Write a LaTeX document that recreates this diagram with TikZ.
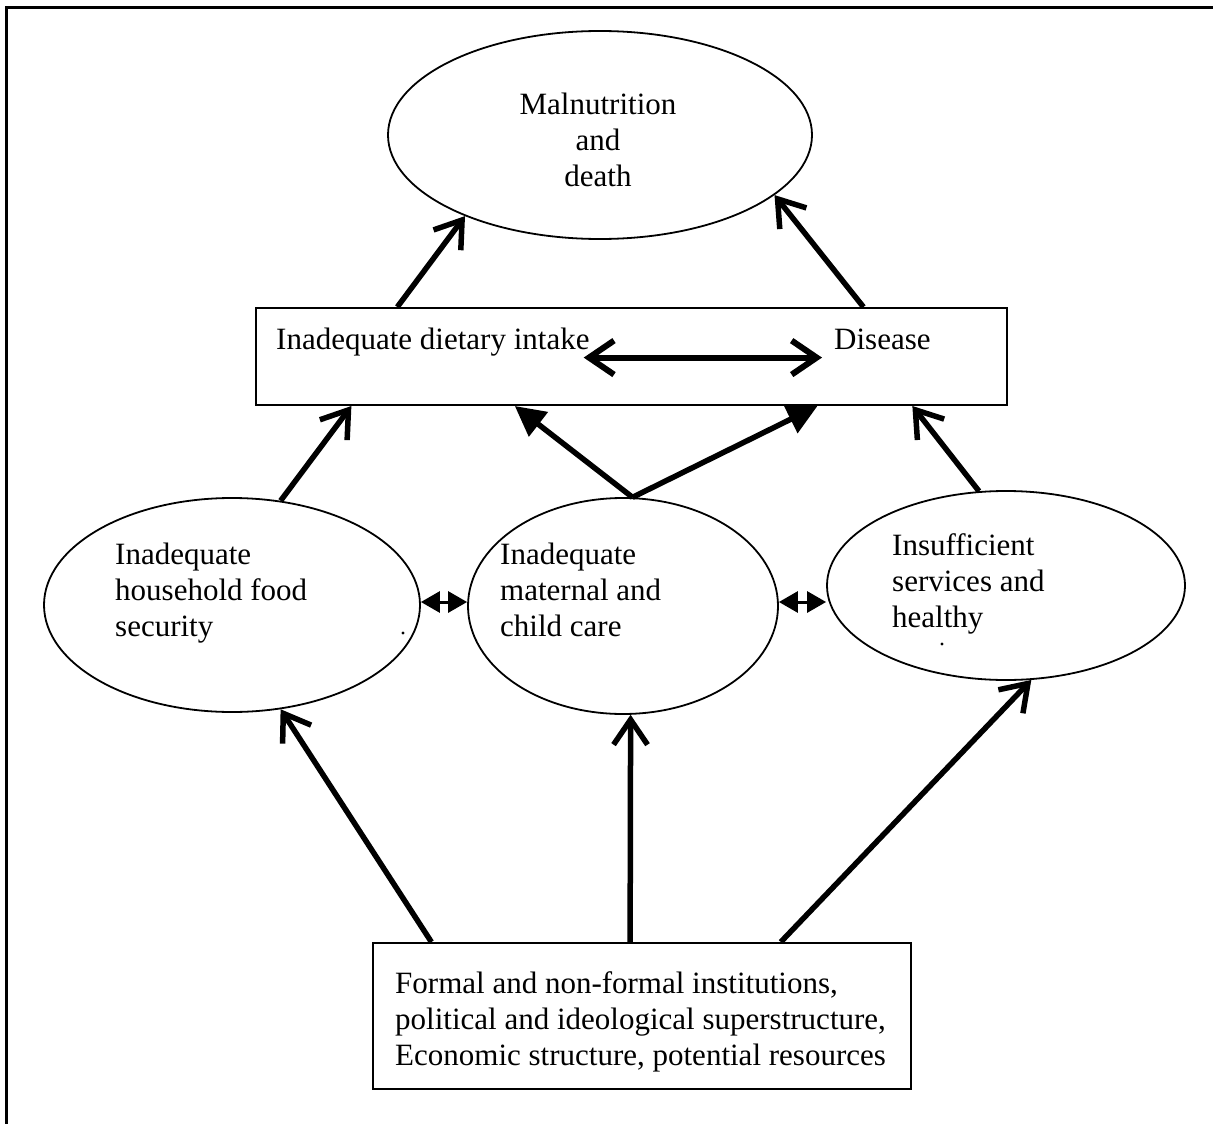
\documentclass[tikz,border=0pt]{standalone}
\usepackage{fontspec}
\setmainfont{Liberation Serif}
\usetikzlibrary{arrows.meta,shapes.geometric,calc}
\begin{document}
\begin{tikzpicture}[x=1pt,y=-1pt,
  txt/.style={font=\fontsize{31}{36}\selectfont, inner sep=0pt, align=left},
  oval/.style={ellipse, draw, line width=1.8pt, inner sep=0pt},
  boxx/.style={rectangle, draw, line width=2pt, inner sep=0pt},
  openarr/.style={line width=5.5pt, -{Straight Barb[length=25pt,width=34pt]}},
  fillarr/.style={line width=5.5pt, -{Triangle[length=30pt,width=30pt]}},
  dblopen/.style={line width=6pt, {Straight Barb[length=25pt,width=34pt]}-{Straight Barb[length=25pt,width=34pt]}},
  dblsmall/.style={line width=3pt, {Triangle[length=19pt,width=21pt]}-{Triangle[length=19pt,width=21pt]}}
]
\useasboundingbox (0,0) rectangle (1213,1124);
\draw[line width=3pt] (6,1124) -- (6,8) -- (1213,8);

% nodes
\node[oval, minimum width=424pt, minimum height=208pt] (mal) at (600,135) {};
\node[txt, align=center] (maltext) at (598,140) {Malnutrition\\and\\death};

\node[boxx, minimum width=751pt, minimum height=97pt] (box) at (631.5,356.5) {};
\node[txt, anchor=base west] (diet) at (276,349) {Inadequate dietary intake};
\node[txt, anchor=base west] (dis) at (834,349) {Disease};

\node[oval, minimum width=376pt, minimum height=214pt] (lef) at (232,605) {};
\node[txt, anchor=north west] (leftext) at (115,543) {Inadequate\\household food\\security};
\node[oval, minimum width=310pt, minimum height=216pt] (mid) at (623,606) {};
\node[txt, anchor=north west] (midtext) at (500,543) {Inadequate\\maternal and\\child care};
\node[oval, minimum width=358pt, minimum height=189pt] (rig) at (1006,585.5) {};
\node[txt, anchor=north west] (rigtext) at (892,533) {Insufficient\\services and\\healthy};

\fill (403,633) circle (1.6);
\fill (942,644) circle (1.6);

\node[boxx, minimum width=538pt, minimum height=146pt] (bot) at (642,1016) {};
\node[txt, anchor=north west] (bottext) at (395,971) {Formal and non-formal institutions,\\political and ideological superstructure,\\Economic structure, potential resources};

% connectors
\draw[openarr] ($(box.north west)!0.189!(box.north east)$) -- (mal.211);
\draw[openarr] ($(box.north west)!0.808!(box.north east)$) -- (mal.341);
\draw[dblopen, shorten <=-6pt, shorten >=12pt] ([yshift=-16pt]diet.east) -- ([yshift=-16pt]dis.west |- diet.east);

\draw[openarr] (lef.65) -- ($(box.south west)!0.128!(box.south east)$);
\draw[fillarr] (mid.85) -- ($(box.south west)!0.345!(box.south east)$);
\draw[fillarr] (mid.85) -- ($(box.south west)!0.747!(box.south east)$);
\draw[openarr] (rig.106) -- ($(box.south west)!0.873!(box.south east)$);

\draw[dblsmall] ([yshift=3pt]lef.east) -- ([yshift=3pt]lef.east -| mid.west);
\draw[dblsmall] ([yshift=4pt]mid.east) -- ([yshift=4pt]mid.east -| rig.west);

\draw[openarr] ($(bot.north west)!0.11!(bot.north east)$) -- (lef.295);
\draw[openarr] ($(bot.north west)!0.478!(bot.north east)$) -- (mid.274);
\draw[openarr] ($(bot.north west)!0.757!(bot.north east)$) -- (rig.285);
\end{tikzpicture}
\end{document}
